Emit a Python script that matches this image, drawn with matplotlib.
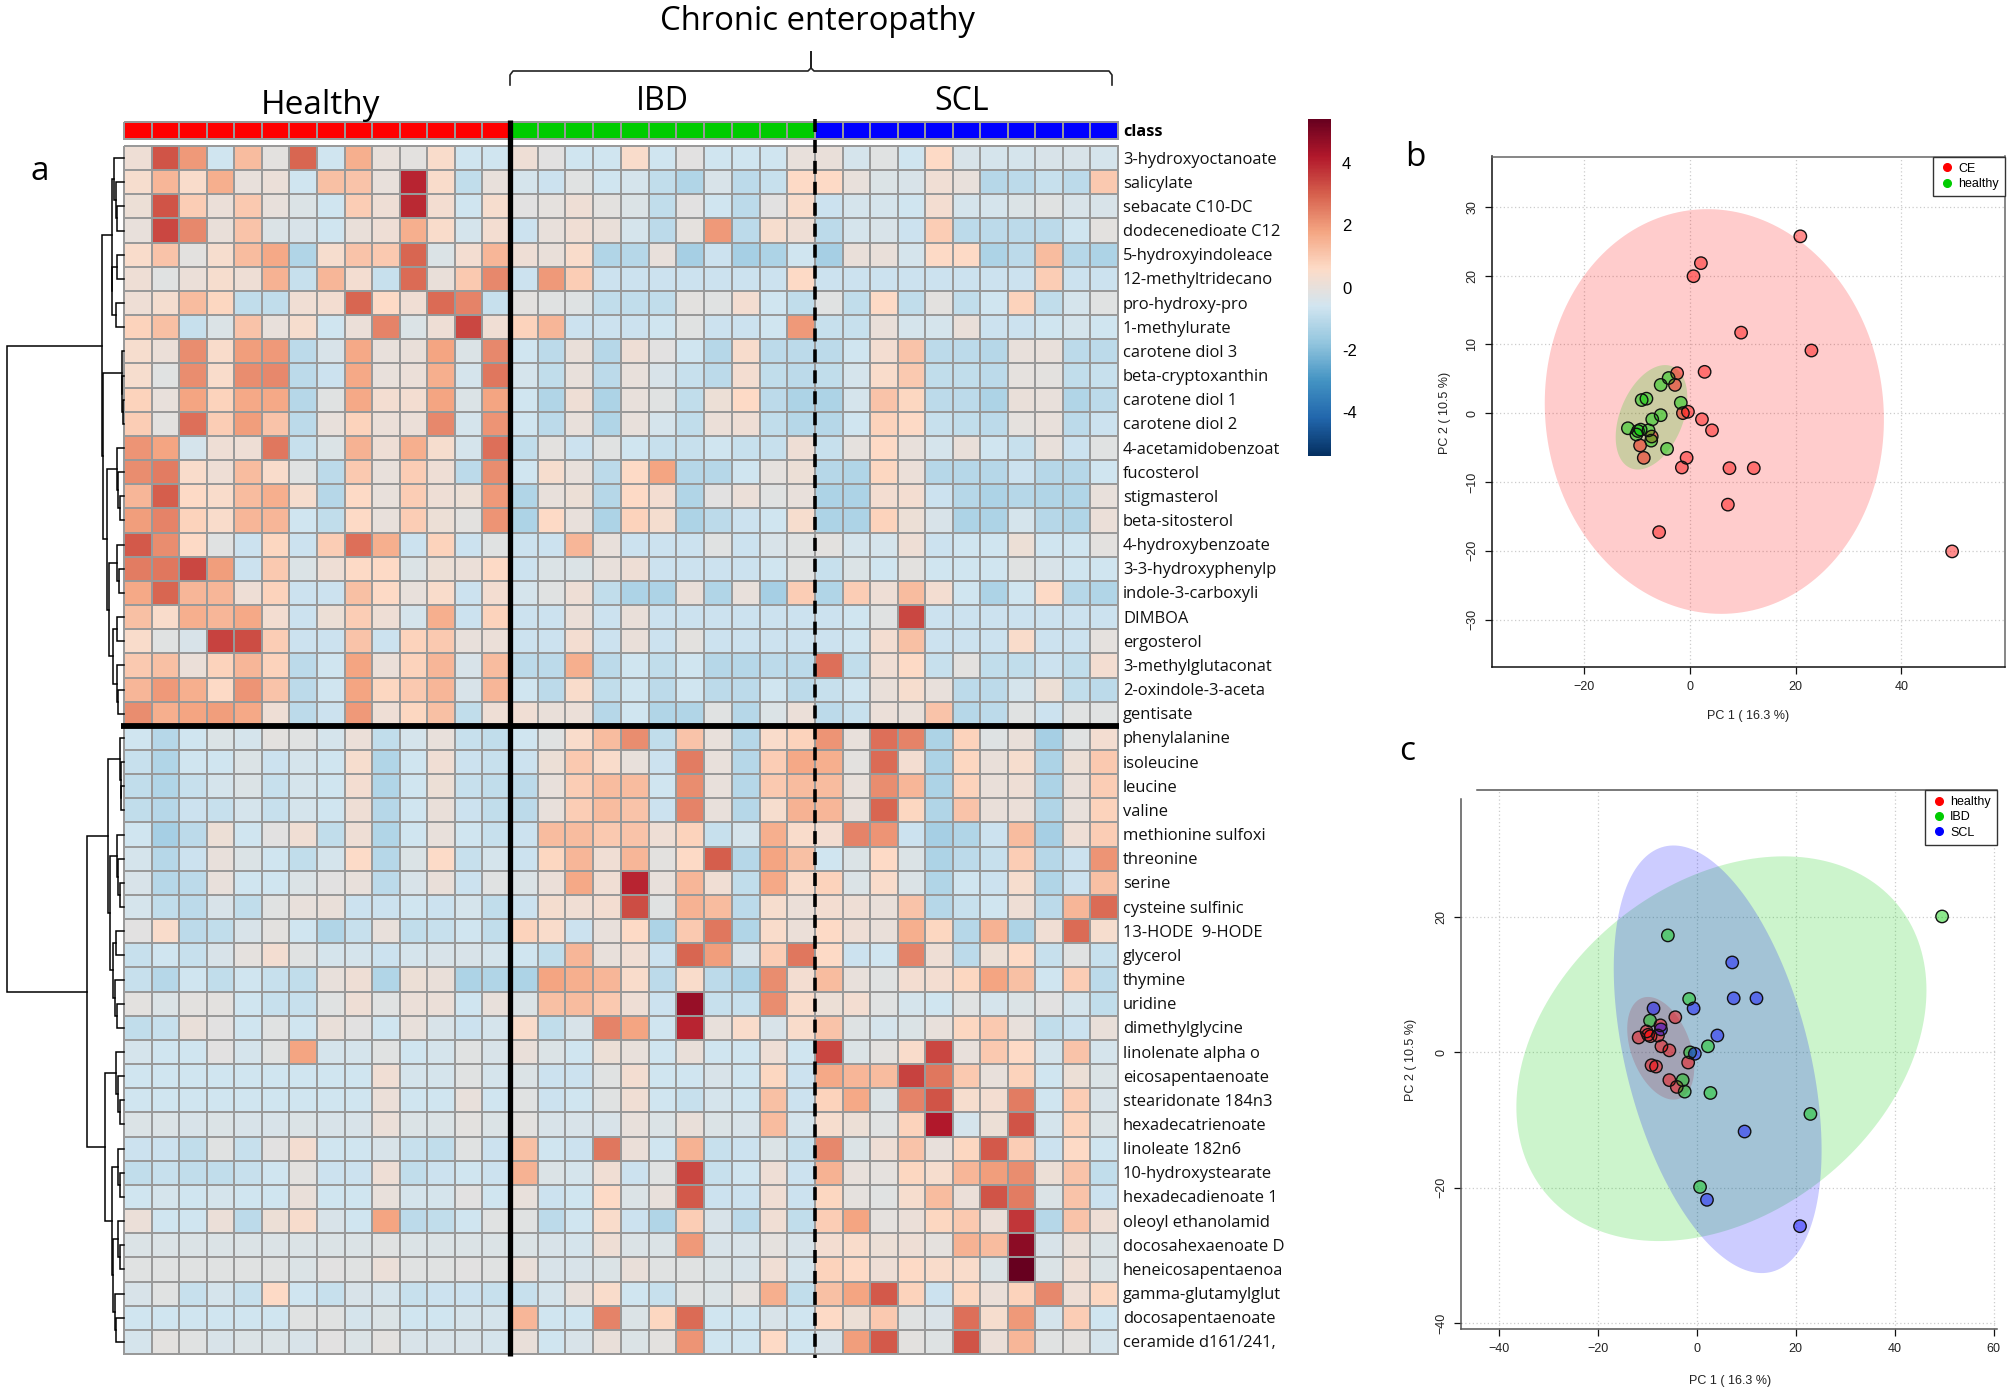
import numpy as np
import matplotlib
matplotlib.use('Agg')
import matplotlib.pyplot as plt
from matplotlib.colors import LinearSegmentedColormap
from matplotlib.cm import ScalarMappable
from matplotlib.colors import Normalize
from matplotlib.lines import Line2D

W, H = 2007, 1393
plt.rcParams['font.family'] = ['Liberation Sans', 'DejaVu Sans']

# metabolite names, top to bottom
metabolites = [
    '3-hydroxyoctanoate', 'salicylate', 'sebacate C10-DC', 'dodecenedioate C12', '5-hydroxyindoleace',
    '12-methyltridecano', 'pro-hydroxy-pro', '1-methylurate', 'carotene diol 3', 'beta-cryptoxanthin',
    'carotene diol 1', 'carotene diol 2', '4-acetamidobenzoat', 'fucosterol', 'stigmasterol',
    'beta-sitosterol', '4-hydroxybenzoate', '3-3-hydroxyphenylp', 'indole-3-carboxyli', 'DIMBOA',
    'ergosterol', '3-methylglutaconat', '2-oxindole-3-aceta', 'gentisate',
    'phenylalanine', 'isoleucine', 'leucine', 'valine', 'methionine sulfoxi', 'threonine', 'serine',
    'cysteine sulfinic', '13-HODE  9-HODE', 'glycerol', 'thymine', 'uridine', 'dimethylglycine',
    'linolenate alpha o', 'eicosapentaenoate', 'stearidonate 184n3', 'hexadecatrienoate', 'linoleate 182n6',
    '10-hydroxystearate', 'hexadecadienoate 1', 'oleoyl ethanolamid', 'docosahexaenoate D',
    'heneicosapentaenoa', 'gamma-glutamylglut', 'docosapentaenoate', 'ceramide d161/241,',
]

# heatmap values, healthy samples (14 columns)
healthy_rows = [
    [0.2, 3.2, 2.0, -0.6, 1.3, -0.1, 2.9, -0.6, 1.6, 0.0, -0.1, 0.5, -0.6, -0.6],
    [0.4, 1.4, 0.5, 1.6, 0, 0.1, -0.6, 1.2, 1.1, 0, 4.0, 0.5, -0.9, 0],
    [0.15, 3.2, 0.9, 0.1, 1.0, 0, -0.3, -0.6, 0.9, 0.2, 3.9, 0.3, -0.6, 0.4],
    [0, 3.4, 2.3, 0.05, 1.1, -0.3, -0.4, -0.6, 0.05, 0.2, 1.6, 0.5, -0.5, 0.3],
    [0.5, 1.1, -0.1, 0.4, 1.3, 1.7, -1.2, 0.4, 1.1, 1.0, 2.9, -0.3, 0.3, 1.4],
    [0.2, -0.2, 0.1, 0.4, 0.2, 1.5, -0.8, 1.4, 0.3, -0.8, 2.8, 0.05, 1.0, 2.3],
    [0.2, 0.35, 1.3, 0.7, -0.9, -0.9, 0.25, 0.3, 2.9, 0.6, 0.25, 2.8, 2.4, -0.8],
    [0.8, 1.2, -0.8, -0.3, 1.1, 0, 0.4, -0.6, 0.1, 2.4, -0.3, 0.2, 3.4, 0.25],
    [0.4, 0.1, 2.2, 0.5, 1.9, 2.0, -1.0, -0.4, 1.7, 0, 0.05, 1.8, -0.3, 2.3],
    [0.4, -0.2, 2.2, 0.5, 2.2, 2.3, -1.0, -0.7, 1.7, 0, 0.1, 1.6, -0.5, 2.6],
    [0.8, 0, 1.8, 0.8, 1.7, 1.7, -1.1, -0.2, 1.7, 0.3, 0.3, 1.8, -0.3, 1.8],
    [0.9, -0.1, 2.7, 0.9, 1.9, 1.1, -1.0, 0, 0.8, 0.1, 0.1, 2.3, -0.5, 2.1],
    [2.1, 1.8, -0.5, 0.2, 0.2, 2.6, -0.8, -0.3, 1.5, 0.2, 1.6, 0.4, -0.5, 2.7],
    [2.2, 2.5, 0.5, 0.2, 1.3, 0.5, -0.2, -1.0, 1.0, 0, 0.9, 0.2, -1.0, 2.2],
    [1.4, 3.0, 0.6, 0.5, 1.3, 1.6, 0.4, -1.1, 0.6, 0, 0.9, 0.2, 0.15, 2.0],
    [1.9, 2.4, 0.8, 0.5, 1.4, 1.4, -0.6, -0.9, 0.6, 0, 0.9, 0.15, -0.1, 2.1],
    [3.1, 2.2, 0.6, -0.2, -0.7, 0.7, -0.7, 0.9, 2.7, 1.6, -0.7, 0.8, -0.7, -0.2],
    [2.5, 2.6, 3.4, 1.9, -0.7, 1.0, -0.3, 0.2, 0.6, 0.6, -0.3, 0.15, 0.1, 0.6],
    [1.7, 2.9, 1.4, 1.4, 0.2, 0.8, -0.7, -0.7, 1.2, 0.6, 0, 0.5, -0.7, 0.3],
    [1.2, 0.5, 1.6, 1.4, 1.7, 0.3, -0.7, 0.15, 0.9, 0.2, -0.5, 1.6, -0.7, 0.8],
    [0.5, -0.2, -0.4, 3.5, 3.3, 0.9, -0.7, -0.7, 1.1, -0.7, 0.8, 1.0, 0, 0.1],
    [1.0, 1.2, 0.1, 0.8, 1.4, 0.8, -1.0, -0.6, 1.8, 0.1, 0.8, 1.4, -0.4, 1.3],
    [1.4, 2.0, 1.6, 0.6, 2.1, 1.1, -1.0, -0.6, 1.8, 0.7, 1.0, 1.4, -0.4, 1.4],
    [2.2, 1.6, 1.8, 1.9, 1.7, 0.2, -1.0, -0.7, 2.0, 0.2, 0.7, 1.2, -0.9, 0.2],
    [-0.6, -1.1, -0.6, -0.3, -0.5, -0.1, -0.2, -0.5, 0.1, -0.9, -0.5, 0, -0.8, -0.9],
    [-0.8, -1.2, -0.6, -0.6, -0.3, -0.7, -0.5, -0.6, 0.4, -1.2, -0.6, 0.25, -0.7, -0.8],
    [-0.9, -1.2, -0.8, -0.5, -0.3, -0.8, -0.5, -0.6, 0.3, -1.2, -0.6, 0.15, -0.8, -0.9],
    [-0.9, -1.1, -0.7, -0.8, -0.5, -0.8, -0.5, -0.6, 0.2, -1.1, -0.6, 0.05, -0.7, -0.9],
    [-0.6, -1.4, -1.0, 0.15, -0.6, -0.15, 0.25, -0.9, 0.2, -1.2, -0.6, 0, -0.6, -0.8],
    [-0.5, -1.1, -0.7, 0, -0.3, -0.6, -0.9, -0.5, 0.55, -1.1, -0.3, 0.55, -0.8, -0.5],
    [-0.4, -1.1, -1.0, 0, -0.6, -0.6, -0.3, -0.15, 0, -1.0, -0.4, 0.05, -0.7, -0.2],
    [-0.5, -0.9, -1.0, -0.4, -0.9, -0.2, 0, 0.05, -0.7, -0.7, -0.6, -0.7, -0.5, -0.9],
    [-0.15, 0.5, -1.0, -0.9, -0.4, -0.1, -0.6, -1.2, -0.8, 0, -0.9, -0.8, -0.6, -0.9],
    [-0.8, -0.6, -0.8, -0.4, -0.05, 0.3, -0.2, -0.5, -0.5, -0.7, -0.5, -0.4, -0.4, -0.5],
    [-0.8, -1.1, -0.6, -0.9, -0.6, -0.8, -0.9, 0, 0.2, -1.2, 0.15, 0.05, -1.3, -1.2],
    [-0.1, -0.3, -0.1, -0.1, -0.6, -0.8, -0.8, -0.2, 0.2, -0.2, 0.1, 0.1, -0.6, 0],
    [-0.9, -0.8, 0.05, -0.15, -0.6, -0.2, -0.6, 0.05, -0.15, -0.6, 0, -0.4, -0.7, -0.5],
    [-0.5, -0.6, -0.6, -0.15, -0.5, -0.2, 1.8, -0.5, -0.5, -0.2, -0.6, -0.5, -0.2, -0.4],
    [-0.6, -0.6, -0.6, -0.6, -0.6, -0.6, -0.6, -0.6, -0.6, 0.25, -0.5, -0.5, -0.2, -0.5],
    [-0.6, -0.6, -0.6, -0.6, -0.6, -0.6, -0.6, -0.6, -0.6, 0.1, -0.6, -0.6, 0, -0.6],
    [-0.3, -0.3, -0.4, -0.3, -0.4, -0.4, -0.3, -0.4, -0.4, 0.1, -0.3, -0.3, -0.1, -0.3],
    [-0.7, -0.7, -0.9, -0.2, -0.8, -0.15, 0.3, -0.6, -0.6, -0.4, -0.8, -0.9, -0.2, -0.7],
    [-0.9, -0.8, -0.9, -0.9, -0.8, -0.6, -0.1, -0.7, -0.7, 0.2, -0.9, -0.7, -0.6, -0.7],
    [-0.6, -0.5, -0.6, -0.5, -0.6, -0.6, 0.05, -0.6, -0.6, 0, -0.5, -0.5, -0.15, -0.6],
    [0.1, -0.6, -0.6, 0.1, -1.0, 0.15, 0.45, -0.4, -0.6, 1.8, -1.0, -0.9, -0.6, -0.2],
    [-0.3, -0.3, -0.3, -0.3, -0.3, -0.3, -0.3, -0.3, -0.3, -0.2, -0.3, -0.3, -0.3, -0.3],
    [-0.2, -0.2, -0.2, -0.2, -0.2, -0.2, -0.3, -0.15, -0.2, 0.1, -0.2, -0.2, -0.15, -0.2],
    [-0.4, -0.2, -0.8, -0.5, -0.8, 0.6, -0.6, -0.8, -0.4, -0.5, -0.8, -0.7, -0.7, -0.8],
    [-0.6, -0.6, -0.6, -0.6, -0.6, -0.6, -0.2, -0.2, -0.5, -0.3, -0.6, -0.6, -0.5, -0.5],
    [-0.5, -0.1, -0.2, -0.4, -0.3, -0.3, -0.4, -0.15, -0.3, -0.1, -0.4, -0.4, -0.4, -0.5],
]

# heatmap values, IBD (first 11) then SCL (last 11)
ce_rows = [
    [0.2, -0.15, -0.6, -0.6, 0.5, -0.6, -0.15, -0.6, -0.6, -0.6, 0.0, 0.05, -0.5, -0.2, -0.6, 0.6, -0.4, -0.5, -0.5, -0.4, -0.4, -0.5],
    [-0.5, -0.7, -0.2, -0.6, -0.5, -0.9, -1.2, -0.4, -1.0, -0.8, 0.6, 0.6, 0, -0.3, -0.4, 0.25, 0, -1.1, -1.0, -0.8, -1.0, 1.0],
    [-0.15, -0.05, 0.2, -0.1, -0.3, -0.9, -0.15, -0.6, -1.0, -0.15, 0.5, -0.7, -0.5, -0.5, -0.6, 0.3, -0.5, -0.5, -0.3, -0.2, -0.4, -0.4],
    [-0.7, 0, 0.25, 0.05, -0.5, -1.0, -0.05, 2.0, -1.0, 0.4, 0.2, -1.0, -0.5, -0.4, -0.7, 0.9, -1.0, -1.0, -1.0, -1.0, -0.6, -0.1],
    [0.2, 0.05, 0.5, -1.2, -1.1, 0, -1.4, -0.7, -1.4, -1.3, -0.6, -1.4, 0.05, 0.05, -0.5, 0.6, 0.6, -1.3, -1.0, 1.3, -1.1, -1.3],
    [-0.7, 2.0, 0.9, -0.7, -0.7, -0.7, -0.7, -0.7, -0.7, -0.7, 0.6, -0.7, -0.7, -0.7, -0.7, -0.7, -0.7, -0.7, -0.7, 0.9, -0.7, -0.7],
    [-0.1, -0.2, -0.25, -0.9, -0.9, -0.9, -0.1, -0.2, 0.3, -0.6, -0.9, -0.2, -0.9, 0.6, -0.9, -0.1, -0.9, -0.6, 0.8, -0.9, -0.5, -0.2],
    [0.8, 1.4, -0.7, -0.7, -0.7, -0.6, -0.2, -0.7, -0.7, -0.6, 2.0, -0.8, -0.8, 0.05, -0.5, -0.5, 0.05, -0.7, -0.7, -0.6, -0.5, -0.6],
    [-0.6, -1.0, 0.05, -1.1, 0.2, -0.15, -0.6, -1.1, 0.45, -1.0, -1.0, -1.0, -0.6, 0.3, 1.1, -1.0, -1.0, -1.1, 0, 0, -1.0, -1.0],
    [-0.5, -0.9, 0, -1.0, 0, -0.4, -0.8, -1.0, 0.3, -0.9, -1.0, -0.9, -0.5, 0.5, 1.0, -0.9, -0.9, -1.0, -0.05, -0.1, -0.9, -0.8],
    [-0.6, -1.2, 0.2, -1.3, 0, -0.2, -0.9, 0.15, 0.6, -1.0, -1.3, -1.3, -0.5, 1.1, 0.7, -1.0, -1.0, -1.3, 0.05, 0, -1.2, -1.0],
    [-0.6, -1.0, 0, -1.2, 0, -0.5, -0.9, 0.1, 0.2, -0.9, -1.1, -1.1, -0.6, 0.8, 0.6, -0.8, -0.9, -1.0, -0.05, 0, -1.0, -0.7],
    [-0.9, -0.1, -0.7, -0.2, -0.6, -0.8, -0.8, -0.6, -0.8, -0.8, 0.2, -0.8, -0.05, 0.6, 0, -0.5, 0.05, -0.6, -0.8, 0, -0.7, -0.2],
    [-0.6, 0.4, 0, -1.0, 0.6, 1.8, -1.1, -1.1, -0.6, -0.05, 0.15, -1.1, -1.2, 0.7, 0.1, -1.1, -1.1, -1.1, -0.7, -1.1, -1.1, -0.6],
    [-1.2, 0, 0.15, -1.1, 0.6, 0.3, -1.2, -0.15, 0.1, -0.2, 0, -1.3, -1.3, 0.3, 0.3, -0.7, -1.1, -1.3, -1.1, -1.2, -1.2, 0],
    [-1.3, 0.6, 0, -1.3, 0.8, 0.35, -1.3, -1.0, -0.7, -0.6, 0.4, -1.3, -1.3, 0.8, 0.15, -0.4, -1.3, -1.3, -0.5, -1.1, -1.2, 0.1],
    [-0.7, -0.7, 1.4, 0, -0.7, -0.7, -0.7, -0.2, -0.7, -0.4, -0.2, -0.1, -0.5, -0.5, 0.2, -0.7, -0.6, -0.6, 0.15, -0.6, -0.6, -0.1],
    [-0.7, -0.3, -0.3, 0, 0.2, -0.7, -0.7, -0.7, -0.7, -0.6, -0.2, -0.8, -0.3, -0.6, -0.1, -0.6, -0.6, -0.6, -0.2, -0.4, -0.6, -0.6],
    [-0.5, -0.2, 0.2, -0.9, -1.3, -1.3, 0.05, -1.2, 0, -1.4, 0.9, -1.2, 0.9, 0.2, 1.3, 0.3, -0.6, -1.3, -0.6, 0.6, -1.1, -1.2],
    [-0.7, -0.7, 0.1, -0.7, 0.05, -0.7, -0.7, -0.7, -0.7, -0.7, -0.7, -0.7, -0.6, -0.2, 3.4, -0.7, -0.7, -0.7, -0.7, -0.7, -0.7, -0.7],
    [-0.7, -0.7, 0.3, -0.7, 0.05, -0.7, -0.1, -0.7, -0.7, -0.7, -0.7, -0.7, -0.6, 0.3, 1.2, -0.7, -0.7, -0.7, 0.5, -0.7, -0.7, -0.05],
    [-1.0, -1.0, 1.6, -1.0, -0.6, -0.9, -0.6, -1.1, -1.1, -1.0, -1.0, 2.7, -0.9, 0.25, 0.6, -0.8, -0.1, -0.9, -0.9, -0.7, -0.9, 0.3],
    [-0.6, -1.0, 0.5, -0.9, -0.6, -1.0, -0.6, -1.0, -1.0, -0.6, -1.0, -0.8, -0.6, 0.05, 0.4, 0, -1.0, -1.0, -0.5, 0.15, -0.9, -1.0],
    [0.25, 0.05, 0.1, -1.1, -0.6, -1.2, -1.2, -0.2, -1.1, -0.3, 0.1, -1.0, -0.8, 0.1, 0.05, 1.1, -1.1, -1.0, -0.2, -0.7, -0.2, -0.2],
    [-0.6, -0.2, 0.5, 1.3, 2.2, -0.9, 1.1, 0.0, -1.1, 0.5, 0.8, 2.1, 0, 2.7, 2.4, -1.3, 0.8, -0.25, 0.05, -1.4, -0.2, 0.3],
    [-0.7, 0.15, 1.0, 0.5, 0, -0.7, 2.5, 0, -1.1, 0.9, 1.7, 1.6, -0.1, 2.8, 0.3, -1.3, 0.7, 0.05, 0.4, -1.3, 0.15, 1.0],
    [-1.0, 0, 0.9, 1.3, 1.3, -0.6, 2.2, 0, -1.1, 1.0, 1.3, 1.3, 0, 2.2, 1.4, -1.3, 0.8, 0.05, 0.2, -1.3, 0.05, 0.9],
    [-1.0, 0, 0.9, 1.3, 1.1, -0.7, 2.4, 0, -1.1, 0.4, 1.5, 1.4, 0, 2.9, 0.7, -1.2, 1.1, 0.05, 0.1, -1.2, 0, 0.8],
    [-0.7, 1.3, 1.3, 1.0, 1.1, 0.2, 0.8, -0.8, -0.5, 1.6, 0.5, 0.3, 2.4, 2.1, -0.7, -1.4, -1.2, -0.7, 1.3, -1.4, 0.2, 0.9],
    [-0.7, 0.7, 1.4, 0.25, 1.4, -0.1, 0.6, 3.0, -1.1, 1.8, 1.2, -0.6, -0.3, 0.6, -0.3, -1.3, -1.0, -0.8, 0.9, -1.1, -0.7, 2.1],
    [-0.3, 0.1, 1.7, 0.25, 4.0, 0, 1.4, 0.25, -0.9, 1.7, 0.5, 0.8, -0.3, 0.5, -0.3, -1.2, -0.6, -0.7, 0.4, -1.2, -0.7, 1.2],
    [-0.7, 0.35, 0.25, 0.3, 3.3, -0.2, 1.5, 1.3, -1.0, 0.4, 0.1, 0.3, 0.2, 0.05, 1.1, -1.1, -0.8, -0.6, 0.2, -1.0, 1.4, 2.8],
    [0.8, 0.5, -0.7, 0, 0.6, -1.3, 1.0, 2.6, -1.2, 0.5, 0.1, 0.6, 0.2, 0.05, 1.6, 0.7, -1.1, 1.5, -1.3, 0.25, 2.8, 0.4],
    [-0.6, -0.9, 1.4, 0, 0.25, -0.7, 2.9, 1.9, -0.4, 0.9, 2.6, 0.6, -0.7, -0.6, 2.4, 0.2, -1.0, 0.15, 0.6, -0.8, -0.2, -0.8],
    [-1.3, 1.8, 1.6, 1.4, 0.5, -1.0, 0.5, -1.0, -1.3, 2.2, 0.3, 1.3, 0, -0.2, 0.3, 0.3, 0.7, 1.8, 1.2, -0.6, 0.9, -1.0],
    [-0.3, 1.2, 1.3, 1.0, 0.2, -0.7, 4.6, -0.8, -0.8, 2.2, 0.5, 0.15, 0.3, -0.2, -0.5, -0.6, -0.2, -0.5, -0.3, -0.15, -0.5, -0.9],
    [0.5, -0.9, -0.4, 2.4, 1.8, -0.6, 4.0, 0, 0.5, -0.4, 0.5, 1.1, -0.25, -0.5, -0.3, 0, 0.7, 1.0, 0, -0.9, -0.7, 0.05],
    [0.05, -0.3, -0.6, 0.15, 0, -0.6, 0.05, -0.6, -0.6, 0.2, -0.6, 3.4, -0.3, -0.1, 0.5, 3.4, 0, 1.0, 0.6, -0.5, 1.1, -0.5],
    [-0.3, -0.7, -0.7, -0.2, 0.3, -0.6, -0.6, -0.4, -0.6, 0.7, -0.7, 1.7, 1.4, 1.3, 3.5, 2.6, 1.0, 0, 0.8, -0.6, 0.15, -0.3],
    [-0.2, -0.7, -0.6, -0.2, 0.25, -0.6, -0.8, -0.5, -0.6, 1.2, -0.7, 0.8, 1.7, -0.3, 2.4, 3.2, 0.4, 0.3, 2.5, -0.6, 0.9, -0.4],
    [-0.1, -0.4, -0.4, -0.4, 0, -0.3, 0.05, -0.3, -0.4, 1.3, -0.5, 0.4, 0.15, -0.2, 0.8, 4.2, -0.5, 0.15, 3.2, -0.5, 0.8, -0.3],
    [1.2, -0.6, -0.7, 2.6, 0.1, -0.6, 1.5, -0.8, -0.7, -0.3, -0.8, 2.3, -0.3, 0.2, 1.1, 0, 0.7, 3.1, 0.9, -0.7, 0.6, -0.6],
    [1.5, -0.3, -0.5, 0.25, -0.7, -0.2, 3.4, -0.8, -0.6, 0.2, -0.7, 1.5, 0, -0.05, 0.7, 0.4, 1.4, 1.9, 2.2, 0.15, 1.1, -0.9],
    [0, -0.7, -0.6, 0.6, -0.3, 0, 3.1, -0.7, -0.7, 0.25, -0.7, 0.7, -0.05, -0.2, 0.4, 1.3, 0.1, 3.2, 2.5, -0.3, 1.1, -0.7],
    [-0.2, -1.0, -0.6, 0.5, -0.7, -1.2, 0.9, -0.4, -1.0, 0.25, -0.9, 0.9, 1.8, -0.05, 0.1, 0.7, 1.0, 0.1, 3.7, -1.1, 1.1, 0.2],
    [-0.3, -0.4, -0.5, 0.2, -0.3, -0.3, 2.0, -0.4, -0.4, -0.05, -0.4, 0.3, 0.5, 0.15, 0.2, -0.05, 1.5, 1.3, 4.8, -0.4, 0.05, -0.3],
    [0.05, -0.4, -0.4, -0.3, 0.05, -0.2, -0.2, -0.3, -0.4, 0.25, -0.5, 0.8, 0.6, 0.2, 0.6, 0.5, 0.5, -0.3, 5.4, -0.3, 0.2, -0.3],
    [-0.8, -0.5, 0, 0.5, -0.6, -0.8, -0.2, -0.3, -0.05, 1.6, -0.9, 1.2, 1.8, 3.1, 0.8, -0.7, 0.7, 0.1, 0.8, 2.3, 0.2, 0.7],
    [1.4, -0.6, -0.6, 2.4, -0.3, 0.7, 2.8, -0.6, -0.6, -0.4, -0.6, 0.6, 0.15, 1.0, -0.2, -0.35, 2.7, 0.4, 2.0, -0.5, 0.9, -0.6],
    [0.05, -0.6, -0.4, 0.05, -0.3, -0.1, 2.1, -0.6, -0.6, 0.6, -0.6, -0.4, 1.9, 3.1, -0.1, -0.25, 3.2, 0.1, 1.4, -0.2, -0.1, -0.5],
]

# PCA scores, sign of PC2 as in panel c
pc1_healthy = [-4.0, -5.5, -8.2, -9.1, -1.7, -5.5, -7.1, -11.7, -7.8, -9.3, -9.8, -10.1, -7.3, -4.3]
pc2_healthy = [-5.1, -4.1, -2.1, -1.9, -1.5, 0.3, 0.9, 2.2, 2.5, 2.4, 2.6, 3.1, 4.0, 5.2]
pc1_ibd = [49.6, -5.8, -1.5, -9.4, 2.3, -1.3, -2.8, -2.4, 2.8, 23.0, 0.7]
pc2_ibd = [20.1, 17.3, 7.9, 4.7, 0.9, 0.0, -4.1, -5.8, -6.0, -9.1, -19.9]
pc1_scl = [7.2, 7.5, 12.1, -0.6, -8.7, 4.2, -7.2, -0.35, 9.7, 2.1, 20.9]
pc2_scl = [13.3, 8.0, 8.0, 6.5, 6.5, 2.5, 3.4, -0.2, -11.7, -21.8, -25.7]

# row dendrogram: (height, left, right), L is a leaf, leaves run top to bottom
L = None
upper_a = (12.5, (10, L, (8.5, L, (7, L, L))), (12, (7, L, L), (8.5, L, L)))
upper_b = (21, (2.5, L, (2, L, (1.5, L, L))),
           (17, (7.5, L, (6, L, (4, L, L))),
            (15, (7, L, (5, L, L)), (11, (7.5, L, L), (7.5, L, (6, L, L))))))
lower_a = (16, (4, L, (3.5, L, (3, L, L))),
           (14, (7, L, (6, L, (4.5, L, L))), (11, (8, L, L), (9, L, (7, L, L)))))
lower_b = (19, (8, L, (6, L, (4, L, L))),
           (12, (6, L, (4, L, L)), (11.5, (6, L, (4.5, L, L)), (9, L, (8, L, L)))))
row_tree = (117, (22, upper_a, upper_b), (37, lower_a, lower_b))

n_healthy, n_ibd, n_scl = 14, 11, 11

matrix = np.hstack([np.array(healthy_rows, float), np.array(ce_rows, float)])
cmap = LinearSegmentedColormap.from_list('rb', ['#053061', '#2166AC', '#4393C3', '#92C5DE', '#D1E5F0',
                                                '#FDDBC7', '#F4A582', '#D6604D', '#B2182B', '#67001F'], N=256)
norm = Normalize(-5.4, 5.4)

fig = plt.figure(figsize=(W / 100, H / 100), dpi=100, facecolor='white')


def px_axes(x0, y0, x1, y1):
    return fig.add_axes([x0 / W, 1 - y1 / H, (x1 - x0) / W, (y1 - y0) / H])


# main canvas in pixels, y down
ax = px_axes(0, 0, W, H)
ax.set_xlim(0, W)
ax.set_ylim(H, 0)
ax.axis('off')

x_left, x_h, x_i, x_right = 124, 510, 815, 1118
y_top, y_bottom = 146, 1354
x_edges = np.concatenate([np.linspace(x_left, x_h, n_healthy + 1),
                          np.linspace(x_h, x_i, n_ibd + 1)[1:],
                          np.linspace(x_i, x_right, n_scl + 1)[1:]])
y_edges = np.linspace(y_top, y_bottom, matrix.shape[0] + 1)
ax.pcolormesh(x_edges, y_edges, matrix, cmap=cmap, norm=norm, edgecolors='#999999', linewidth=1.3)

# class strip
class_codes = np.array([[0] * n_healthy + [1] * n_ibd + [2] * n_scl])
class_cmap = matplotlib.colors.ListedColormap(['#FF0000', '#00CC00', '#0000FF'])
ax.pcolormesh(x_edges, [122, 139], class_codes, cmap=class_cmap, edgecolors='#999999', linewidth=1.3)
ax.text(1123, 132, 'class', fontsize=11.7, fontweight='bold', va='center', family='Open Sans')

for i, name in enumerate(metabolites):
    ax.text(1123, (y_edges[i] + y_edges[i + 1]) / 2 + 1.5, name, fontsize=11.9, va='center', family='Open Sans',
            color='#111111')

# group separators
ax.plot([x_h, x_h], [120, 1356], color='black', lw=3.8, solid_capstyle='butt')
ax.plot([x_i, x_i], [119, 1358], color='black', lw=2.6, dashes=(3.6, 2.2))
ax.plot([x_left - 3, x_right + 1], [y_edges[24], y_edges[24]], color='black', lw=4.2, solid_capstyle='butt')


def draw_tree(node, leaf_iter):
    # returns (x, y) of the node, leaves sit on the heatmap edge
    if node is None:
        return x_left, next(leaf_iter)
    h, a, b = node
    xa, ya = draw_tree(a, leaf_iter)
    xb, yb = draw_tree(b, leaf_iter)
    x = x_left - h
    ax.plot([xa, x, x, xb], [ya, ya, yb, yb], color='black', lw=1.1, solid_joinstyle='miter')
    return x, (ya + yb) / 2


draw_tree(row_tree, iter((y_edges[:-1] + y_edges[1:]) / 2))

# titles
ax.text(817, 21, 'Chronic enteropathy', fontsize=23.7, ha='center', va='center', family='Open Sans')
ax.text(320, 105, 'Healthy', fontsize=24, ha='center', va='center', family='Open Sans')
ax.text(662, 101, 'IBD', fontsize=23, ha='center', va='center', family='Open Sans')
ax.text(962, 101, 'SCL', fontsize=23, ha='center', va='center', family='Open Sans')
ax.plot([510, 510, 513, 808, 811, 811, 811, 814, 1109, 1112, 1112],
        [85, 75, 71, 71, 68, 52, 68, 71, 71, 75, 85], color='#222222', lw=1.2)
ax.text(40, 172, 'a', fontsize=24, ha='center', va='center', family='Open Sans')
ax.text(1415, 157, 'b', fontsize=24, ha='center', va='center', family='Open Sans')
ax.text(1407, 752, 'c', fontsize=24, ha='center', va='center', family='Open Sans')

# colour key
cax = px_axes(1308, 119, 1331, 456)
cb = fig.colorbar(ScalarMappable(norm=norm, cmap=cmap), cax=cax)
cb.outline.set_visible(False)
cb.set_ticks([-4, -2, 0, 2, 4], labels=['-4', '-2', '0', '2', '4'])
cb.ax.tick_params(length=0, labelsize=12, pad=8)


def conf_ellipse(x, y):
    # 95% normal ellipse of the group, same as the ellipse package in R
    x, y = np.array(x), np.array(y)
    t = np.linspace(0, 2 * np.pi, 200)
    cov = np.cov(x, y)
    r = cov[0, 1] / np.sqrt(cov[0, 0] * cov[1, 1])
    d = np.arccos(r)
    scale = np.sqrt(5.991)
    return (x.mean() + scale * np.sqrt(cov[0, 0]) * np.cos(t + d / 2),
            y.mean() + scale * np.sqrt(cov[1, 1]) * np.cos(t - d / 2))


def style_pca(a, xticks, yticks, xlim, ylim):
    a.set_xlim(*xlim)
    a.set_ylim(*ylim)
    a.set_xticks(xticks)
    a.set_yticks(yticks)
    a.grid(True, color='#cccccc', lw=0.9, ls=(0, (1, 2)))
    a.set_axisbelow(True)
    a.tick_params(labelsize=9, length=5, width=0.9, color='#111111', labelcolor='#222222', pad=5)
    plt.setp(a.get_yticklabels(), rotation=90, va='center')


def group_points(a, x, y, color):
    a.scatter(x, y, s=80, c=color, alpha=0.45, edgecolors='none', zorder=3)
    a.scatter(x, y, s=80, facecolors='none', edgecolors='#111111', linewidths=1.0, zorder=4)


def legend_box(a, names, colors):
    handles = [Line2D([], [], ls='', marker='o', ms=5.5, color=c) for c in colors]
    a.legend(handles, names, loc='upper right', fontsize=9, fancybox=False, framealpha=1, edgecolor='#333333',
             borderaxespad=0, handletextpad=0.3, labelspacing=0.25, borderpad=0.5, handlelength=1.2)


# panel b
pc1_ce = pc1_ibd + pc1_scl
pc2_ce = [-v for v in pc2_ibd + pc2_scl]
pc2_healthy_b = [-v for v in pc2_healthy]
axb = px_axes(1492, 156.5, 2005, 667)
style_pca(axb, [-20, 0, 20, 40], [-30, -20, -10, 0, 10, 20, 30], (-37.4, 59.6), (-36.9, 37.3))
axb.fill(*conf_ellipse(pc1_ce, pc2_ce), color='#FF0000', alpha=0.2, lw=0, zorder=1)
axb.fill(*conf_ellipse(pc1_healthy, pc2_healthy_b), color='#00CC00', alpha=0.2, lw=0, zorder=1)
group_points(axb, pc1_ce, pc2_ce, '#FF0000')
group_points(axb, pc1_healthy, pc2_healthy_b, '#00CC00')
for s in axb.spines.values():
    s.set_color('#666666')
    s.set_linewidth(1.1)
axb.spines['left'].set_color('#111111')
axb.spines['bottom'].set_color('#111111')
legend_box(axb, ['CE', 'healthy'], ['#FF0000', '#00CC00'])
ax.text(1748, 716, 'PC 1 ( 16.3 %)', fontsize=9, ha='center', va='center', color='#222222')
ax.text(1445, 413, 'PC 2 ( 10.5 %)', fontsize=9, ha='center', va='center', rotation=90, color='#222222')

# panel c
axc = px_axes(1461, 790, 1997, 1329)
style_pca(axc, [-40, -20, 0, 20, 40, 60], [-40, -20, 0, 20], (-47.6, 60.7), (-40.9, 38.8))
axc.fill(*conf_ellipse(pc1_healthy, pc2_healthy), color='#FF0000', alpha=0.2, lw=0, zorder=1)
axc.fill(*conf_ellipse(pc1_ibd, pc2_ibd), color='#00CC00', alpha=0.2, lw=0, zorder=1)
axc.fill(*conf_ellipse(pc1_scl, pc2_scl), color='#0000FF', alpha=0.2, lw=0, zorder=1)
group_points(axc, pc1_healthy, pc2_healthy, '#FF0000')
group_points(axc, pc1_ibd, pc2_ibd, '#00CC00')
group_points(axc, pc1_scl, pc2_scl, '#0000FF')
axc.spines['right'].set_visible(False)
axc.spines['top'].set_bounds(-44.4, 60.7)
axc.spines['left'].set_bounds(-40.9, 37.4)
for s in axc.spines.values():
    s.set_color('#555555')
    s.set_linewidth(1.1)
legend_box(axc, ['healthy', 'IBD', 'SCL'], ['#FF0000', '#00CC00', '#0000FF'])
ax.text(1730, 1381, 'PC 1 ( 16.3 %)', fontsize=9, ha='center', va='center', color='#222222')
ax.text(1411, 1060, 'PC 2 ( 10.5 %)', fontsize=9, ha='center', va='center', rotation=90, color='#222222')

fig.savefig('out.png', dpi=100)
